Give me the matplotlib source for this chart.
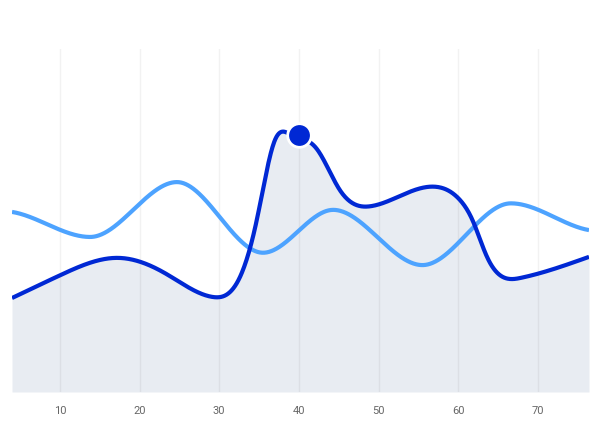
import numpy as np
import matplotlib
matplotlib.use("Agg")
import matplotlib.pyplot as plt

plt.rcParams['font.family'] = ['Roboto', 'DejaVu Sans']

# points (x, y on a 0-100 scale)
dark_x = [4.0, 10.0, 17.3, 23.3, 29.2, 32.6, 34.7, 37.0, 39.0, 42.2, 45.1, 49.1,
          57.3, 60.2, 61.8, 63.6, 67.9, 76.4]
dark_y = [27.4, 34.0, 39.1, 34.5, 27.7, 33.5, 50.0, 73.5, 75.0, 71.0, 59.0, 54.2,
          59.8, 56.0, 50.0, 39.4, 33.3, 39.4]

light_x = [4.0, 13.8, 24.7, 35.5, 44.3, 55.5, 66.6, 76.4]
light_y = [52.5, 45.2, 61.2, 40.6, 53.1, 37.0, 55.0, 47.2]

highlight_x = 40
highlight_y = 75

ticks = [10, 20, 30, 40, 50, 60, 70]


def spline(x, y, xs):
    # natural cubic spline
    x = np.asarray(x, float)
    y = np.asarray(y, float)
    n = len(x)
    h = np.diff(x)
    A = np.zeros((n, n))
    b = np.zeros(n)
    A[0, 0] = A[-1, -1] = 1
    for i in range(1, n - 1):
        A[i, i - 1] = h[i - 1]
        A[i, i] = 2 * (h[i - 1] + h[i])
        A[i, i + 1] = h[i]
        b[i] = 6 * ((y[i + 1] - y[i]) / h[i] - (y[i] - y[i - 1]) / h[i - 1])
    M = np.linalg.solve(A, b)
    idx = np.clip(np.searchsorted(x, xs) - 1, 0, n - 2)
    hi = h[idx]
    a = x[idx + 1] - xs
    c = xs - x[idx]
    return (M[idx] * a**3 / (6 * hi) + M[idx + 1] * c**3 / (6 * hi)
            + (y[idx] / hi - M[idx] * hi / 6) * a
            + (y[idx + 1] / hi - M[idx + 1] * hi / 6) * c)


def hermite(x, y, xs):
    # cubic hermite, flat at every turning point
    x = np.asarray(x, float)
    y = np.asarray(y, float)
    h = np.diff(x)
    d = np.diff(y) / h
    m = np.zeros_like(y)
    m[0] = d[0] * 0.5
    m[-1] = d[-1] * 0.5
    idx = np.clip(np.searchsorted(x, xs) - 1, 0, len(x) - 2)
    t = (xs - x[idx]) / h[idx]
    h00 = 2 * t**3 - 3 * t**2 + 1
    h10 = t**3 - 2 * t**2 + t
    h01 = -2 * t**3 + 3 * t**2
    h11 = t**3 - t**2
    return h00 * y[idx] + h10 * h[idx] * m[idx] + h01 * y[idx + 1] + h11 * h[idx] * m[idx + 1]


xs = np.linspace(dark_x[0], dark_x[-1], 1000)
dark_s = spline(dark_x, dark_y, xs)
xs2 = np.linspace(light_x[0], light_x[-1], 1000)
light_s = hermite(light_x, light_y, xs2)

fig = plt.figure(figsize=(6, 4.45), dpi=100)
ax = fig.add_axes([0.02, 0.1191, 0.9617, 0.7708])

ax.fill_between(xs, 0, dark_s, color="#e8ecf2", zorder=1, linewidth=0)
for t in ticks:
    ax.axvline(t, color=(0, 0, 0, 0.05), linewidth=1, zorder=2)
ax.plot(xs2, light_s, color="#4da3ff", linewidth=3, zorder=3, solid_capstyle="butt")
ax.plot(xs, dark_s, color="#0028d4", linewidth=3, zorder=4, solid_capstyle="butt")
ax.plot([highlight_x], [highlight_y], "o", markersize=17, color="#0028d4",
        markeredgecolor="white", markeredgewidth=2, zorder=5)

ax.set_xlim(4.0, 76.4)
ax.set_ylim(0, 100)
ax.set_xticks(ticks)
ax.set_yticks([])
ax.tick_params(axis="x", length=0, pad=10, labelsize=8, labelcolor="#666666")
for s in ax.spines.values():
    s.set_visible(False)

fig.savefig("out.png", dpi=100)
